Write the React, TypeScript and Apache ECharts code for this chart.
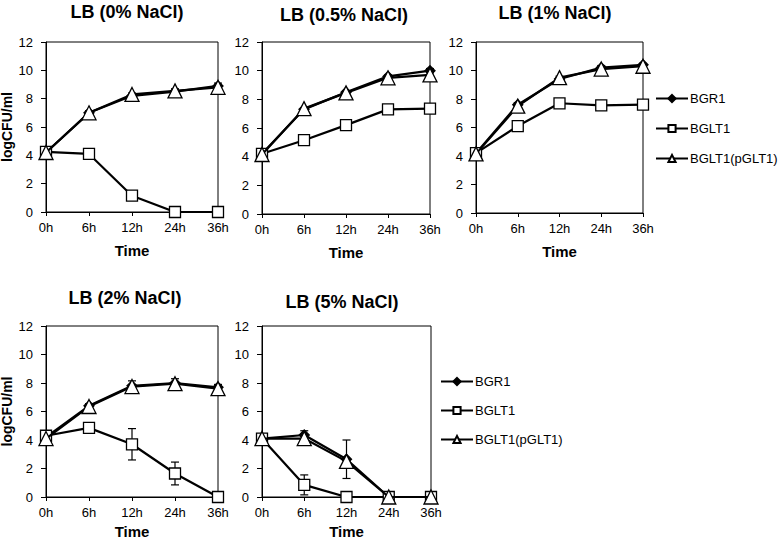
import React, { useEffect, useRef } from 'react';
import * as echarts from 'echarts';

const times = ['0h', '6h', '12h', '24h', '36h'];
const panelTitles = ['LB (0% NaCl)', 'LB (0.5% NaCl)', 'LB (1% NaCl)', 'LB (2% NaCl)', 'LB (5% NaCl)'];
const seriesNames = ['BGR1', 'BGLT1', 'BGLT1(pGLT1)'];

// one row per panel (0%, 0.5%, 1%, 2%, 5% NaCl)
const bgr1 = [
  [4.2, 7.0, 8.2, 8.5, 8.9],
  [4.2, 7.3, 8.5, 9.6, 10.0],
  [4.2, 7.6, 9.4, 10.2, 10.4],
  [4.2, 6.4, 7.8, 8.0, 7.7],
  [4.1, 4.35, 2.65, 0, 0],
];
const bglt1 = [
  [4.25, 4.1, 1.15, 0, 0],
  [4.2, 5.15, 6.2, 7.3, 7.35],
  [4.2, 6.1, 7.7, 7.55, 7.6],
  [4.3, 4.85, 3.7, 1.65, 0],
  [4.1, 0.85, 0, 0, 0],
];
const pglt1 = [
  [4.2, 7.0, 8.3, 8.55, 8.8],
  [4.15, 7.35, 8.45, 9.5, 9.7],
  [4.15, 7.5, 9.5, 10.1, 10.3],
  [4.1, 6.35, 7.75, 7.95, 7.6],
  [4.1, 4.1, 2.5, 0, 0],
];
const bgr1Err = [
  [0, 0.15, 0.2, 0.2, 0.2],
  [0, 0.1, 0.1, 0.1, 0.15],
  [0, 0.15, 0.2, 0.15, 0.1],
  [0, 0.15, 0.35, 0.3, 0.2],
  [0, 0.3, 1.35, 0.1, 0],
];
const bglt1Err = [
  [0, 0, 0, 0, 0],
  [0, 0, 0, 0, 0],
  [0, 0, 0, 0, 0],
  [0, 0, 1.1, 0.8, 0],
  [0, 0.7, 0, 0, 0],
];

const FONT = 'Liberation Sans, Arial, sans-serif';

export default function App() {
  const ref = useRef<HTMLDivElement>(null);
  useEffect(() => {
    if (!ref.current) return;
    const chart = echarts.init(ref.current, null, { renderer: 'svg' });
    const grids = [
      { left: 46, top: 42, width: 172, height: 170 },
      { left: 262, top: 42, width: 168, height: 172 },
      { left: 476, top: 42, width: 167, height: 171 },
      { left: 46, top: 326, width: 172, height: 171 },
      { left: 262, top: 326, width: 169, height: 171 },
    ];
    const titlePos = [
      { x: 127, y: 3 },
      { x: 344, y: 6 },
      { x: 555, y: 4 },
      { x: 125, y: 289 },
      { x: 342, y: 293 },
    ];
    const xAxes: any[] = [];
    const yAxes: any[] = [];
    const series: any[] = [];
    grids.forEach((g, i) => {
      xAxes.push({
        gridIndex: i,
        type: 'category',
        data: times,
        boundaryGap: false,
        name: 'Time',
        nameLocation: 'middle',
        nameGap: i >= 3 ? 27 : 31,
        nameTextStyle: { fontFamily: FONT, fontSize: 15, fontWeight: 'bold', color: '#000' },
        axisLine: { lineStyle: { color: '#000', width: 1 } },
        axisTick: { show: true, length: 4, inside: false, lineStyle: { color: '#000' } },
        axisLabel: { fontFamily: FONT, fontSize: 13, color: '#000', margin: 9 },
        splitLine: { show: false },
      });
      yAxes.push({
        gridIndex: i,
        type: 'value',
        min: 0,
        max: 12,
        interval: 2,
        name: i === 0 || i === 3 ? 'logCFU/ml' : '',
        nameLocation: 'middle',
        nameGap: 32,
        nameRotate: 90,
        nameTextStyle: { fontFamily: FONT, fontSize: 14, fontWeight: 'bold', color: '#000' },
        axisLine: { show: true, lineStyle: { color: '#000', width: 1 } },
        axisTick: { show: true, length: 5, lineStyle: { color: '#000' } },
        axisLabel: { fontFamily: FONT, fontSize: 13, color: '#000', margin: 13 },
        splitLine: { show: false },
      });
      const sets = [bgr1[i], bglt1[i], pglt1[i]];
      const symbols = ['diamond', 'rect', 'triangle'];
      const sizes = [10, 11, 14];
      const fills = ['#000', '#fff', '#fff'];
      sets.forEach((d, k) => {
        series.push({
          type: 'line',
          name: seriesNames[k],
          xAxisIndex: i,
          yAxisIndex: i,
          data: d,
          symbol: symbols[k],
          symbolSize: sizes[k],
          showAllSymbol: true,
          lineStyle: { color: '#000', width: 2.2 },
          itemStyle: { color: fills[k], borderColor: '#000', borderWidth: 1.3 },
          z: 3 + k,
        });
      });
      const errs = [
        { vals: bgr1[i], err: bgr1Err[i] },
        { vals: bglt1[i], err: bglt1Err[i] },
      ];
      errs.forEach((e) => {
        const data = e.vals
          .map((v, j) => [j, Math.max(0, v - e.err[j]), v + e.err[j]])
          .filter((_, j) => e.err[j] > 0);
        series.push({
          type: 'custom',
          xAxisIndex: i,
          yAxisIndex: i,
          z: 2,
          silent: true,
          encode: { x: 0, y: [1, 2] },
          data,
          renderItem: (params: any, api: any) => {
            const x = api.value(0);
            const p1 = api.coord([x, api.value(2)]);
            const p2 = api.coord([x, api.value(1)]);
            const w = 4;
            const st = { stroke: '#000', lineWidth: 1.2 };
            return {
              type: 'group',
              children: [
                { type: 'line', shape: { x1: p1[0], y1: p1[1], x2: p2[0], y2: p2[1] }, style: st },
                { type: 'line', shape: { x1: p1[0] - w, y1: p1[1], x2: p1[0] + w, y2: p1[1] }, style: st },
                { type: 'line', shape: { x1: p2[0] - w, y1: p2[1], x2: p2[0] + w, y2: p2[1] }, style: st },
              ],
            };
          },
        });
      });
    });

    const legendCommon = {
      orient: 'vertical',
      data: seriesNames,
      itemWidth: 32,
      itemHeight: 9,
      padding: 0,
      itemGap: 17,
      selectedMode: false,
      textStyle: { fontFamily: FONT, fontSize: 13, color: '#000', padding: [0, 0, 0, -3] },
    };

    chart.setOption({
      animation: false,
      backgroundColor: '#fff',
      grid: grids.map((g) => ({
        ...g,
        show: true,
        borderColor: '#000',
        borderWidth: 1,
        backgroundColor: 'transparent',
        containLabel: false,
        outerBoundsMode: 'none',
      })),
      title: panelTitles.map((t, i) => ({
        text: t,
        left: titlePos[i].x,
        top: titlePos[i].y,
        padding: 0,
        textAlign: 'center',
        textStyle: { fontFamily: FONT, fontSize: 18, fontWeight: 'bold', color: '#000' },
      })),
      legend: [
        { ...legendCommon, left: 655, top: 92 },
        { ...legendCommon, left: 440, top: 375, itemGap: 16 },
      ],
      xAxis: xAxes,
      yAxis: yAxes,
      series,
    });
    return () => chart.dispose();
  }, []);
  return <div ref={ref} style={{ position: 'absolute', left: 0, top: 0, width: 780, height: 542 }} />;
}
